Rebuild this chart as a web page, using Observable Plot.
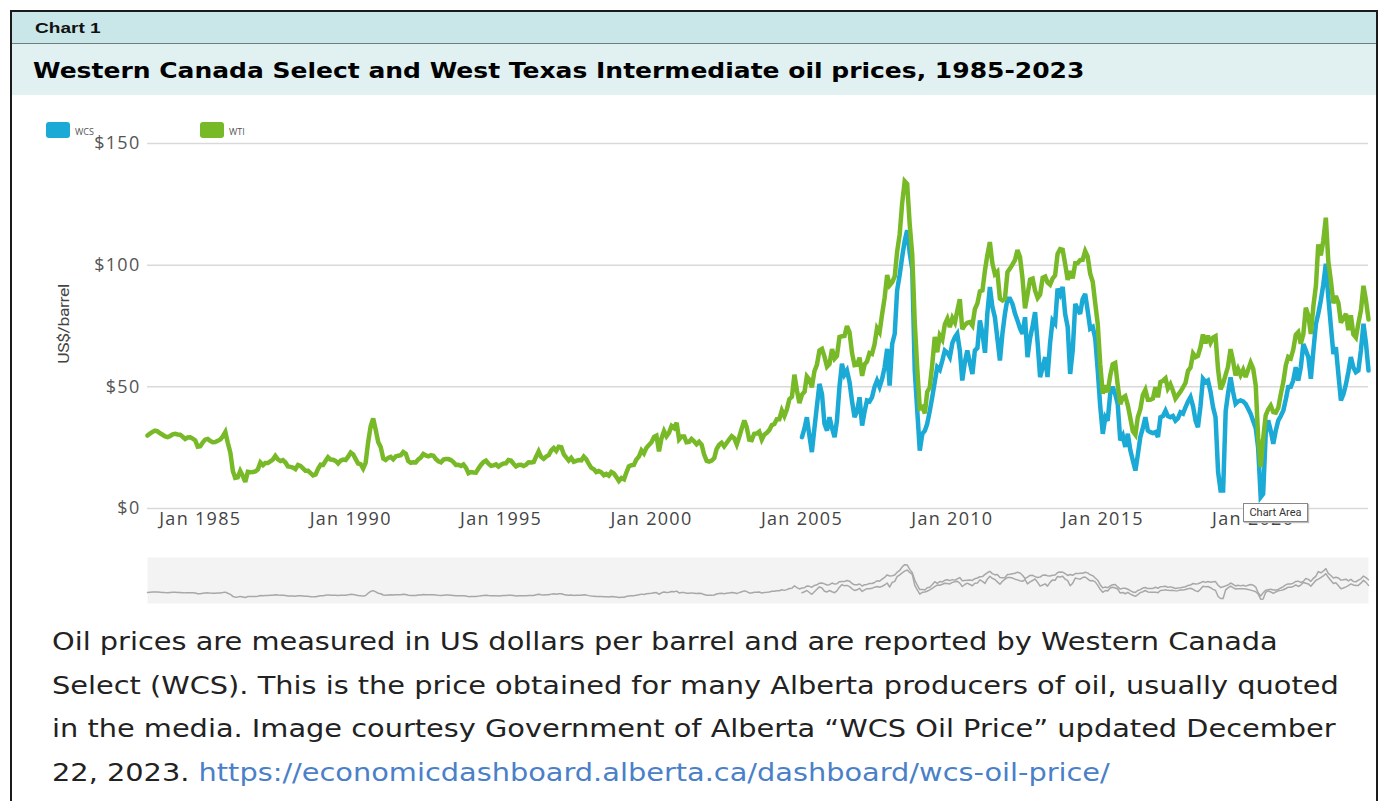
<!DOCTYPE html>
<html>
<head>
<meta charset="utf-8">
<script src="https://cdn.jsdelivr.net/npm/d3@7"></script>
<script src="https://cdn.jsdelivr.net/npm/@observablehq/plot@0.6"></script>
<style>
  html, body { margin: 0; padding: 0; background: #fff; }
  body { width: 1378px; height: 801px; position: relative; overflow: hidden; }
  #frame { position: absolute; left: 10px; top: 10px; width: 1364px; height: 800px;
           border-left: 2px solid #1b1b1b; border-top: 2px solid #1b1b1b; border-right: 2px solid #1b1b1b; }
  #hdr1 { position: absolute; left: 12px; top: 12px; width: 1364px; height: 31px; background: #c9e6e8;
          border-bottom: 1px solid #6f7f80; }
  #hdr1 span { position: absolute; left: 23px; top: 7px; font: bold 15px "Liberation Sans", Arial, sans-serif; color: #111;
               transform: scaleX(1.27); transform-origin: left top; white-space: nowrap; }
  #hdr2 { position: absolute; left: 12px; top: 44px; width: 1364px; height: 51px; background: #e1f1f2; }
  #hdr2 span { position: absolute; left: 21px; top: 15px; font: bold 21px "DejaVu Sans", Verdana, sans-serif; color: #000; white-space: nowrap;
               transform: scaleX(1.19); transform-origin: left top; }
  .chart { position: absolute; left: 0; }
  .chart svg { background: transparent; overflow: visible; }
  .legend { position: absolute; top: 122px; font: 9px "Open Sans", sans-serif; color: #555; }
  .legend .sw { position: absolute; top: 0; width: 24px; height: 16px; border-radius: 3px; }
  .legend .lb { position: absolute; top: 3px; }
  #ylab { position: absolute; left: 24px; top: 316px; width: 80px; text-align: center; transform: rotate(-90deg) scaleX(1.25);
          font: 14px "Liberation Sans Narrow", "Roboto", sans-serif; color: #444; letter-spacing: -0.3px; transform-origin: center; }
  #tip { position: absolute; left: 1243px; top: 503px; width: 63px; height: 17px; background: #fff; border: 1px solid #888;
         font: 11px "Liberation Sans Narrow", "Roboto", sans-serif; color: #333; text-align: center; line-height: 17px;
         box-shadow: 1px 1px 1px #bbb; }
  #caption { position: absolute; left: 52px; top: 621px; font: 24px "DejaVu Sans", Verdana, sans-serif; color: #222;
             line-height: 43.5px; white-space: nowrap; transform: scaleX(1.2); transform-origin: left top; }
  #caption a { color: #4a80c8; text-decoration: none; }
</style>
</head>
<body>
<div id="frame"></div>
<div id="hdr1"><span>Chart 1</span></div>
<div id="hdr2"><span>Western Canada Select and West Texas Intermediate oil prices, 1985-2023</span></div>
<div id="main" class="chart" style="top:95px"></div>
<div id="nav" class="chart" style="top:557px"></div>
<div id="legend"></div>
<div id="ylab">US$/barrel</div>
<div id="tip">Chart Area</div>
<div id="caption">Oil prices are measured in US dollars per barrel and are reported by Western Canada<br>Select (WCS). This is the price obtained for many Alberta producers of oil, usually quoted<br>in the media. Image courtesy Government of Alberta “WCS Oil Price” updated December<br>22, 2023. <a href="https://economicdashboard.alberta.ca/dashboard/wcs-oil-price/">https://economicdashboard.alberta.ca/dashboard/wcs-oil-price/</a></div>

<script>
// ---- Data (US$/barrel, monthly) ----
const seriesNames = ["WCS", "WTI"];
const seriesColors = ["#1ba9d5", "#78b928"];

const wtiStart = "1983-04";
const wti = [
  /*1983*/ 30.0, 30.8, 31.5, 32.0, 31.7, 30.9, 30.3, 29.6, 29.3,
  /*1984*/ 29.8, 30.5, 30.7, 30.4, 30.3, 29.5, 28.6, 29.2, 29.3, 28.7, 28.0, 25.4,
  /*1985*/ 25.6, 27.2, 28.3, 28.6, 27.8, 27.2, 27.3, 27.8, 28.4, 29.6, 31.4, 27.0,
  /*1986*/ 22.9, 15.3, 12.6, 12.8, 15.4, 13.4, 10.9, 15.1, 14.9, 15.0, 15.2, 16.1,
  /*1987*/ 18.9, 17.8, 18.7, 18.7, 19.4, 20.1, 21.6, 20.2, 19.5, 19.9, 18.9, 17.3,
  /*1988*/ 17.1, 16.8, 16.2, 17.9, 17.5, 16.5, 15.5, 15.5, 14.5, 13.6, 14.0, 16.3,
  /*1989*/ 18.0, 17.9, 19.5, 21.1, 20.1, 20.0, 19.6, 18.5, 19.7, 20.1, 19.9, 21.3,
  /*1990*/ 23.0, 22.2, 20.4, 18.5, 18.2, 16.4, 18.7, 27.3, 33.9, 37.0, 32.3, 27.3,
  /*1991*/ 25.2, 20.5, 19.9, 20.8, 21.2, 20.2, 21.4, 21.7, 21.9, 23.2, 22.5, 19.5,
  /*1992*/ 18.8, 19.0, 18.9, 20.2, 20.9, 22.4, 21.8, 21.4, 21.9, 21.7, 20.3, 19.4,
  /*1993*/ 19.0, 20.1, 20.3, 20.3, 19.9, 19.1, 17.9, 18.0, 17.5, 18.1, 16.7, 14.5,
  /*1994*/ 15.0, 14.8, 14.7, 16.4, 17.9, 19.1, 19.7, 18.4, 17.5, 17.7, 18.1, 17.2,
  /*1995*/ 18.0, 18.5, 18.6, 19.9, 19.7, 18.4, 17.3, 17.9, 18.0, 17.5, 18.0, 19.0,
  /*1996*/ 18.9, 19.1, 21.3, 23.5, 21.2, 20.4, 21.3, 21.9, 23.9, 24.9, 23.7, 25.4,
  /*1997*/ 25.2, 22.2, 21.0, 19.7, 20.8, 19.2, 19.6, 19.9, 19.8, 21.3, 20.2, 18.3,
  /*1998*/ 16.7, 16.1, 15.0, 15.4, 14.9, 13.7, 14.2, 13.5, 15.0, 14.4, 12.9, 11.3,
  /*1999*/ 12.5, 12.0, 14.7, 17.3, 17.8, 17.9, 20.1, 21.3, 23.9, 22.6, 25.0, 26.1,
  /*2000*/ 27.2, 29.4, 29.9, 23.5, 28.8, 31.8, 29.7, 31.2, 33.9, 33.1, 35.2, 28.4,
  /*2001*/ 29.6, 29.6, 27.2, 27.4, 28.6, 27.6, 26.4, 27.4, 26.2, 22.2, 19.6, 19.3,
  /*2002*/ 19.7, 20.7, 24.4, 26.2, 27.0, 25.5, 26.9, 28.4, 29.7, 28.9, 26.3, 29.4,
  /*2003*/ 32.9, 36.2, 33.6, 28.3, 28.1, 30.7, 30.8, 31.6, 28.3, 30.3, 31.1, 32.2,
  /*2004*/ 34.3, 34.7, 36.7, 36.7, 40.3, 38.0, 40.7, 44.9, 45.9, 55.0, 48.5, 43.3,
  /*2005*/ 46.8, 48.0, 54.3, 53.0, 49.8, 56.4, 59.0, 65.0, 65.6, 62.4, 58.3, 59.4,
  /*2006*/ 65.5, 61.6, 62.7, 70.5, 70.8, 70.9, 75.0, 72.5, 63.8, 58.9, 59.1, 62.0,
  /*2007*/ 54.5, 59.3, 60.4, 63.9, 63.5, 67.5, 74.1, 72.4, 79.9, 86.5, 96.0, 91.7,
  /*2008*/ 93.0, 95.4, 105.5, 112.6, 125.4, 134.5, 133.4, 116.7, 104.1, 76.6, 57.3, 41.1,
  /*2009*/ 41.7, 39.1, 47.9, 49.7, 59.0, 70.5, 64.2, 71.1, 69.4, 75.7, 78.0, 74.5,
  /*2010*/ 78.3, 76.4, 81.2, 86.0, 73.7, 75.3, 76.3, 76.6, 75.2, 81.9, 84.3, 89.2,
  /*2011*/ 89.6, 98.0, 104.0, 109.5, 100.9, 96.3, 97.3, 86.3, 85.5, 86.3, 97.2, 98.6,
  /*2012*/ 100.3, 102.2, 106.2, 103.3, 94.7, 82.3, 87.9, 94.1, 94.5, 89.5, 86.5, 87.9,
  /*2013*/ 94.8, 95.3, 92.9, 92.0, 94.5, 95.8, 104.6, 106.6, 106.3, 100.5, 93.9, 97.6,
  /*2014*/ 94.6, 100.8, 100.8, 102.1, 102.2, 105.8, 103.6, 96.5, 93.2, 84.4, 75.8, 59.3,
  /*2015*/ 47.2, 50.6, 47.8, 54.5, 59.3, 59.8, 50.9, 42.9, 45.5, 46.2, 42.4, 37.2,
  /*2016*/ 31.7, 30.3, 37.5, 40.8, 46.7, 48.8, 44.7, 44.7, 45.2, 49.8, 45.7, 52.0,
  /*2017*/ 52.5, 53.5, 49.3, 51.1, 48.5, 45.2, 46.6, 48.0, 49.8, 51.6, 56.6, 57.9,
  /*2018*/ 63.7, 62.2, 62.7, 66.3, 71.5, 67.9, 71.0, 68.1, 70.2, 70.8, 57.0, 49.0,
  /*2019*/ 51.4, 55.0, 58.2, 65.5, 60.8, 54.7, 57.4, 54.8, 57.0, 54.0, 57.0, 59.9,
  /*2020*/ 57.5, 50.5, 29.2, 17.0, 28.6, 38.3, 40.7, 42.3, 39.6, 39.4, 41.4, 47.0,
  /*2021*/ 52.0, 59.0, 62.3, 61.7, 65.2, 71.4, 72.5, 67.7, 71.7, 82.5, 79.2, 71.7,
  /*2022*/ 83.2, 91.6, 108.5, 104.0, 110.0, 119.5, 101.6, 93.7, 84.3, 87.3, 84.4, 76.4,
  /*2023*/ 78.1, 80.0, 73.3, 79.4, 71.6, 70.3, 76.1, 81.4, 91.5, 85.6, 77.7
];

const wcsStart = "2005-01";
const wcs = [
  /*2005*/ 29.3, 33.0, 37.5, 30.0, 23.2, 33.0, 42.0, 51.2, 47.0, 34.8, 32.0, 37.5,
  /*2006*/ 33.0, 29.3, 36.0, 50.0, 59.5, 55.0, 56.7, 52.0, 44.0, 37.5, 40.0, 45.7,
  /*2007*/ 34.1, 40.0, 44.4, 44.0, 45.7, 50.0, 52.6, 50.0, 53.3, 58.0, 65.6, 50.5,
  /*2008*/ 67.6, 71.8, 89.6, 96.0, 103.3, 110.0, 114.3, 105.0, 98.2, 56.7, 40.0, 23.8,
  /*2009*/ 30.7, 32.0, 34.8, 40.0, 45.7, 52.0, 58.1, 57.0, 60.8, 64.9, 64.0, 62.2,
  /*2010*/ 68.0, 70.4, 71.8, 65.0, 52.6, 60.0, 64.9, 60.0, 55.3, 64.9, 66.0, 77.3,
  /*2011*/ 72.0, 64.0, 80.0, 91.0, 83.0, 78.6, 70.0, 60.8, 72.0, 80.0, 86.2, 86.2,
  /*2012*/ 84.0, 80.0, 77.3, 74.0, 71.8, 78.6, 62.2, 70.0, 75.0, 80.7, 68.0, 54.0,
  /*2013*/ 58.0, 62.2, 54.0, 67.9, 77.3, 76.0, 90.3, 88.0, 91.0, 80.0, 74.6, 55.3,
  /*2014*/ 65.0, 84.1, 82.0, 80.0, 86.0, 88.2, 81.4, 73.9, 74.6, 70.0, 56.7, 42.0,
  /*2015*/ 30.7, 37.5, 36.0, 47.1, 50.0, 47.0, 43.0, 28.0, 30.0, 25.3, 30.7, 24.0,
  /*2016*/ 19.7, 15.6, 22.0, 29.4, 33.0, 37.5, 32.0, 31.4, 31.0, 31.4, 29.4, 37.5,
  /*2017*/ 38.0, 40.2, 38.0, 37.5, 38.0, 36.1, 37.0, 39.5, 39.0, 41.6, 44.0, 45.8,
  /*2018*/ 42.0, 36.0, 33.4, 42.0, 53.3, 52.0, 52.6, 48.0, 41.6, 37.5, 15.0, 7.4,
  /*2019*/ 7.4, 40.0, 47.1, 53.9, 48.0, 43.0, 44.0, 44.4, 44.0, 43.0, 41.0, 38.9,
  /*2020*/ 36.0, 33.0, 25.0, 4.7, 6.0, 30.7, 36.2, 32.0, 26.6, 32.0, 36.2, 38.0,
  /*2021*/ 40.3, 45.0, 49.9, 50.0, 52.6, 58.1, 52.6, 58.0, 67.6, 65.0, 62.2, 53.3,
  /*2022*/ 65.0, 75.9, 80.0, 85.5, 92.0, 100.6, 86.9, 75.0, 63.5, 66.3, 55.0, 44.4,
  /*2023*/ 47.0, 51.2, 56.0, 62.2, 58.0, 56.0, 56.7, 65.0, 75.9, 68.0, 56.7
];

const yTicks = [0, 50, 100, 150];
const xTickYears = [1985, 1990, 1995, 2000, 2005, 2010, 2015, 2020];

// ---- Build tables ----
function monthly(start, values, name) {
  const [y, m] = start.split("-").map(Number);
  return values.map((v, i) => ({date: new Date(Date.UTC(y, m - 1 + i, 1)), value: v, series: name}));
}
const wtiData = monthly(wtiStart, wti, "WTI");
const wcsData = monthly(wcsStart, wcs, "WCS");
const xDomain = [wtiData[0].date, wtiData[wtiData.length - 1].date];
const xTicks = xTickYears.map(y => new Date(Date.UTC(y, 0, 1)));

// ---- Main chart ----
const main = Plot.plot({
  width: 1378,
  height: 450,
  marginLeft: 147,
  marginRight: 10,
  marginTop: 48,
  marginBottom: 37,
  style: {fontFamily: "'Open Sans', sans-serif", fontSize: "18px", color: "#555", background: "transparent", letterSpacing: "1.3px"},
  x: {type: "utc", domain: xDomain},
  y: {domain: [0, 150]},
  marks: [
    Plot.gridY(yTicks, {stroke: "#d9d9d9", strokeOpacity: 1, strokeWidth: 1.5}),
    Plot.axisY(yTicks, {tickSize: 0, tickPadding: 7, tickFormat: d => "$" + d, label: null, fill: "#555"}),
    Plot.axisX(xTicks, {tickSize: 0, tickPadding: 4, tickFormat: d3.utcFormat("Jan %Y"), label: null, fill: "#444"}),
    Plot.line(wcsData, {x: "date", y: "value", stroke: seriesColors[0], strokeWidth: 4.5, strokeLinejoin: "miter", strokeMiterlimit: 3}),
    Plot.line(wtiData, {x: "date", y: "value", stroke: seriesColors[1], strokeWidth: 4.5, strokeLinejoin: "miter", strokeMiterlimit: 3})
  ]
});
document.getElementById("main").appendChild(main);

// ---- Navigator (overview) ----
const nav = Plot.plot({
  width: 1378,
  height: 46,
  marginLeft: 147,
  marginRight: 10,
  marginTop: 0,
  marginBottom: 0,
  style: {background: "transparent"},
  x: {type: "utc", domain: xDomain, axis: null},
  y: {domain: [0, 150], range: [43, 3], axis: null},
  marks: [
    Plot.frame({fill: "#f3f3f3", stroke: null}),
    Plot.line(wcsData, {x: "date", y: "value", stroke: "#a8a8a8", strokeWidth: 1.5}),
    Plot.line(wtiData, {x: "date", y: "value", stroke: "#a8a8a8", strokeWidth: 1.5})
  ]
});
document.getElementById("nav").appendChild(nav);

// ---- Legend ----
const legend = document.getElementById("legend");
const legendX = [46, 200];
seriesNames.forEach((name, i) => {
  const g = document.createElement("div");
  g.className = "legend";
  g.style.left = legendX[i] + "px";
  g.innerHTML = `<div class="sw" style="left:0;background:${seriesColors[i]}"></div><div class="lb" style="left:29px">${name}</div>`;
  legend.appendChild(g);
});
</script>
</body>
</html>
